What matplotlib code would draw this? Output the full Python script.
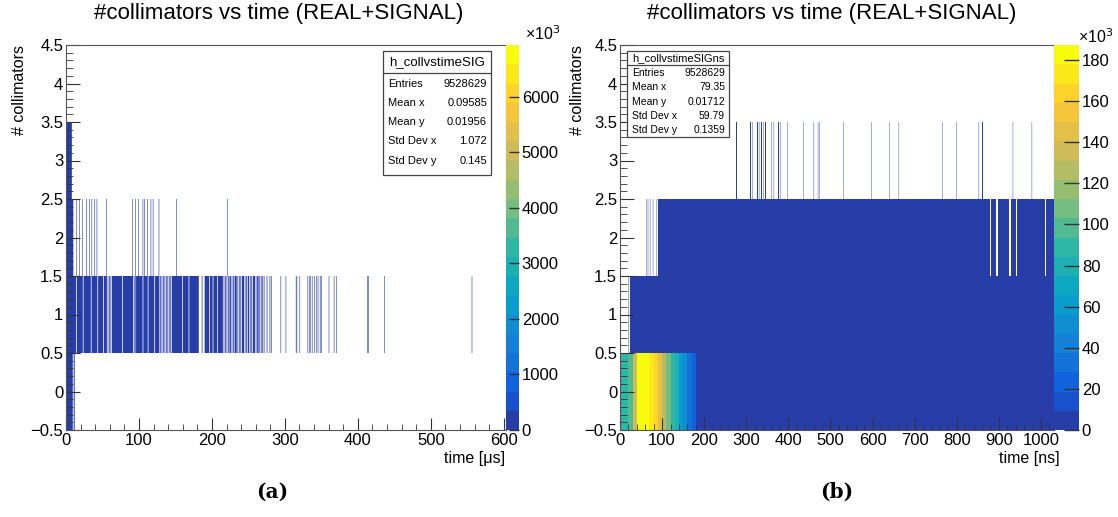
import numpy as np
import matplotlib
matplotlib.use("Agg")
import matplotlib.pyplot as plt
from matplotlib.colors import LinearSegmentedColormap, ListedColormap, BoundaryNorm
from matplotlib.cm import ScalarMappable
from matplotlib.patches import Rectangle
from matplotlib.lines import Line2D
from matplotlib.ticker import MultipleLocator, FuncFormatter

plt.rcParams['font.family'] = ['Liberation Sans', 'DejaVu Sans']

W, H = 1118, 517

# ---------------- data: panel (a), time in microseconds ----------------
a_xmax = 603
# (start, width) of the filled runs in each row of collimators
a_row0 = [(0, 1), (1, 8), (9, 1), (11, 1)]
a_row0_counts = [6930000, 120000, 60000, 40000]
a_row1 = [(0, 14), (15, 8), (24, 10), (35, 8), (44, 7), (52, 4),
          (57, 1), (59, 1), (61, 1), (63, 14), (78, 14), (93, 1), (95, 1),
          (96, 9), (106, 6), (113, 8), (122, 6),
          (129, 1), (131, 1), (133, 1), (135, 1), (137, 1), (139, 1), (141, 1), (143, 1),
          (145, 14), (160, 8), (169, 13), (186, 1),
          (190, 6), (197, 4), (202, 5), (208, 7),
          (216, 1), (218, 1), (220, 1), (222, 1), (224, 2), (227, 1), (229, 1),
          (231, 3), (235, 1), (237, 1), (239, 1), (241, 3), (245, 1), (247, 1),
          (249, 2), (252, 1), (254, 1), (256, 3), (260, 1), (262, 2), (265, 1),
          (267, 1), (269, 1), (271, 1), (275, 1), (279, 1)]
a_row1_lines = [281, 294, 301, 315, 316, 320, 331, 333, 335, 337, 340, 343, 345,
                348, 350, 360, 367, 370, 413, 414, 436, 556]
a_row1_count = 150
a_row2 = [(0, 10)]
a_row2_lines = [14, 18, 22, 28, 32, 35, 39, 42, 55, 91, 95, 99, 105, 107, 111,
                116, 119, 127, 151, 221]
a_row2_count = 60
a_row3 = [(0, 8)]
a_row3_count = 30
a_stats = [("Entries", "9528629"), ("Mean x", "0.09585"), ("Mean y", "0.01956"),
           ("Std Dev x", "1.072"), ("Std Dev y", "0.145")]

# ---------------- data: panel (b), time in nanoseconds ----------------
b_xmax = 1031
b_row0 = [(0, 10), (10, 10), (20, 10), (30, 10), (40, 10), (50, 10), (60, 10),
          (70, 10), (80, 10), (90, 10), (100, 10), (110, 10), (120, 10),
          (130, 10), (140, 10), (150, 10), (160, 10), (170, 10), (180, 851)]
b_row0_counts = [85000, 88000, 96000, 140000, 180000, 187300, 185000, 176000,
                 160000, 145000, 125000, 106000, 90000, 77000, 62000, 50000,
                 35000, 24000, 4000]
b_row1 = [(20, 1), (24, 1007)]
b_row1_count = 3000
b_row2 = [(62, 1), (66, 1), (71, 1), (78, 1), (87, 1), (91, 789), (882, 12),
          (897, 28), (928, 13), (944, 65), (1012, 19)]
b_row2_count = 2000
b_row3 = [(265, 2), (270, 2), (275, 2), (310, 2), (315, 1), (325, 2), (330, 1),
          (335, 2), (340, 1), (345, 2), (360, 1), (365, 1), (375, 2), (380, 1),
          (398, 1), (435, 1), (455, 2), (460, 1), (470, 1), (474, 1), (530, 1),
          (597, 1), (640, 1), (662, 1), (766, 1), (795, 2), (799, 1), (852, 1),
          (860, 2), (933, 1), (978, 1)]
b_row3_count = 5
b_stats = [("Entries", "9528629"), ("Mean x", "79.35"), ("Mean y", "0.01712"),
           ("Std Dev x", "59.79"), ("Std Dev y", "0.1359")]

# width of a single isolated bin in panel (a), in microseconds
a_bin = 0.8

# ROOT kBird palette
bird_stops = [0.0, 0.125, 0.25, 0.375, 0.5, 0.625, 0.75, 0.875, 1.0]
bird_r = [0.2082, 0.0592, 0.0780, 0.0232, 0.1802, 0.5301, 0.8186, 0.9956, 0.9764]
bird_g = [0.1664, 0.3599, 0.5041, 0.6419, 0.7178, 0.7492, 0.7328, 0.7862, 0.9832]
bird_b = [0.5293, 0.8684, 0.8385, 0.7914, 0.6425, 0.4662, 0.3499, 0.1968, 0.0539]
bird = LinearSegmentedColormap.from_list(
    "bird", list(zip(bird_stops, zip(bird_r, bird_g, bird_b))))
n_levels = 20
band_cmap = ListedColormap([bird((i + 0.99) / n_levels) for i in range(n_levels)])


def px(x, y):
    return x / W, 1 - y / H


def frac_box(x0, y0, x1, y1):
    return [x0 / W, 1 - y1 / H, (x1 - x0) / W, (y1 - y0) / H]


def draw_rows(ax, rows, norm, thin):
    for y, segs, counts in rows:
        if np.isscalar(counts):
            counts = [counts] * len(segs)
        wide = [(s, c) for s, c in zip(segs, counts) if s[1] >= thin]
        narrow = [(s, c) for s, c in zip(segs, counts) if s[1] < thin]
        for group, aa in ((wide, False), (narrow, True)):
            if group:
                ax.broken_barh([g[0] for g in group], (y - 0.5, 1),
                               facecolors=[band_cmap(norm(g[1])) for g in group],
                               linewidth=0, antialiased=aa, snap=not aa)


def style_axes(ax, xmax, xlabel, xlab_right):
    ax.set_xlim(0, xmax)
    ax.set_ylim(-0.5, 4.5)
    ax.xaxis.set_major_locator(MultipleLocator(100))
    ax.xaxis.set_minor_locator(MultipleLocator(20))
    ax.yaxis.set_major_locator(MultipleLocator(0.5))
    ax.yaxis.set_minor_locator(MultipleLocator(0.1))
    ax.yaxis.set_major_formatter(FuncFormatter(lambda v, p: f"{v:g}".replace('-', '\u2212')))
    ax.tick_params(which='both', direction='in', top=False, right=False,
                   labelsize=12, color='#333333')
    ax.tick_params(axis='x', which='major', length=9, pad=2)
    ax.tick_params(axis='x', which='minor', length=4.5)
    ax.tick_params(axis='y', which='major', length=10, pad=2)
    ax.tick_params(axis='y', which='minor', length=5)
    for sp in ax.spines.values():
        sp.set_color('#555555')
        sp.set_linewidth(0.8)
    fig.text(*px(xlab_right, 458), xlabel, ha='right', va='center', fontsize=11.5)


def colorbar(cax_rect, norm, vmax, step, tick_len):
    cax = fig.add_axes(cax_rect)
    cb = fig.colorbar(ScalarMappable(norm=norm, cmap=band_cmap), cax=cax)
    cb.outline.set_visible(False)
    cb.set_ticks(np.arange(0, vmax, step))
    cax.yaxis.set_major_formatter(FuncFormatter(lambda v, p: f"{v / 1000:.0f}"))
    cax.tick_params(direction='in', length=tick_len, width=1, color='#333333',
                    labelsize=12, pad=2)
    cax.minorticks_off()


def stat_box(x0, x1, y0, ysep, y1, title, title_fs, rows, row_ys, fs):
    fig.add_artist(Rectangle(px(x0, y1), (x1 - x0) / W, (y1 - y0) / H,
                             transform=fig.transFigure, facecolor='white',
                             edgecolor='#444444', linewidth=0.9, zorder=5))
    fig.add_artist(Line2D([x0 / W, x1 / W], [1 - ysep / H] * 2,
                          transform=fig.transFigure, color='#444444', lw=0.9, zorder=6))
    fig.text((x0 + x1) / 2 / W, 1 - (y0 + ysep) / 2 / H, title, ha='center',
             va='center', fontsize=title_fs, zorder=7)
    for (lab, val), yy in zip(rows, row_ys):
        fig.text(*px(x0 + 5, yy), lab, ha='left', va='center', fontsize=fs, zorder=7)
        fig.text(*px(x1 - 4, yy), val, ha='right', va='center', fontsize=fs, zorder=7)


fig = plt.figure(figsize=(W / 100, H / 100), dpi=100)
title = "#collimators vs time (REAL+SIGNAL)"

# ---------------- panel (a) ----------------
a_vmax = max(a_row0_counts)
a_norm = BoundaryNorm(np.linspace(0, a_vmax, n_levels + 1), n_levels)
ax_a = fig.add_axes(frac_box(66, 45, 506, 430))
a_rows = [(0, a_row0, a_row0_counts),
          (1, a_row1 + [(x, a_bin) for x in a_row1_lines], a_row1_count),
          (2, a_row2 + [(x, a_bin) for x in a_row2_lines], a_row2_count),
          (3, a_row3, a_row3_count)]
draw_rows(ax_a, a_rows, a_norm, 1e9)
style_axes(ax_a, a_xmax, "time [\u03bcs]", 505)
colorbar(frac_box(506, 45, 519, 430), a_norm, a_vmax, 1000000, 7)
fig.text(*px(525, 34), "\u00d710$^3$", ha='left', va='center', fontsize=11.5)
fig.text(*px(279, 14), title, ha='center', va='center', fontsize=16)
fig.text(*px(20, 45), "# collimators", rotation=90, ha='center', va='top', fontsize=11.5)
stat_box(383, 491, 51, 73, 175, "h_collvstimeSIG", 9.5, a_stats,
         [84, 103, 122, 141, 161], 8)
fig.text(*px(272, 492), "(a)", ha='center', va='center', fontsize=14.5,
         fontweight='bold', family='DejaVu Serif')

# ---------------- panel (b) ----------------
b_vmax = max(b_row0_counts)
b_norm = BoundaryNorm(np.linspace(0, b_vmax, n_levels + 1), n_levels)
ax_b = fig.add_axes(frac_box(620, 45, 1054, 430))
draw_rows(ax_b, [(0, b_row0, b_row0_counts), (1, b_row1, b_row1_count),
                 (2, b_row2, b_row2_count), (3, b_row3, b_row3_count)], b_norm, 1.5)
style_axes(ax_b, b_xmax, "time [ns]", 1060)
colorbar(frac_box(1054, 45, 1079, 430), b_norm, b_vmax, 20000, 11)
fig.text(*px(1078, 37), "\u00d710$^3$", ha='left', va='center', fontsize=11.5)
fig.text(*px(832, 14), title, ha='center', va='center', fontsize=16)
fig.text(*px(577, 45), "# collimators", rotation=90, ha='center', va='top', fontsize=11.5)
stat_box(627, 729, 51, 65, 137, "h_collvstimeSIGns", 8, b_stats,
         [73, 87, 102, 116, 130], 7.5)
fig.text(*px(837, 492), "(b)", ha='center', va='center', fontsize=14.5,
         fontweight='bold', family='DejaVu Serif')

fig.savefig("out.png", dpi=100)
